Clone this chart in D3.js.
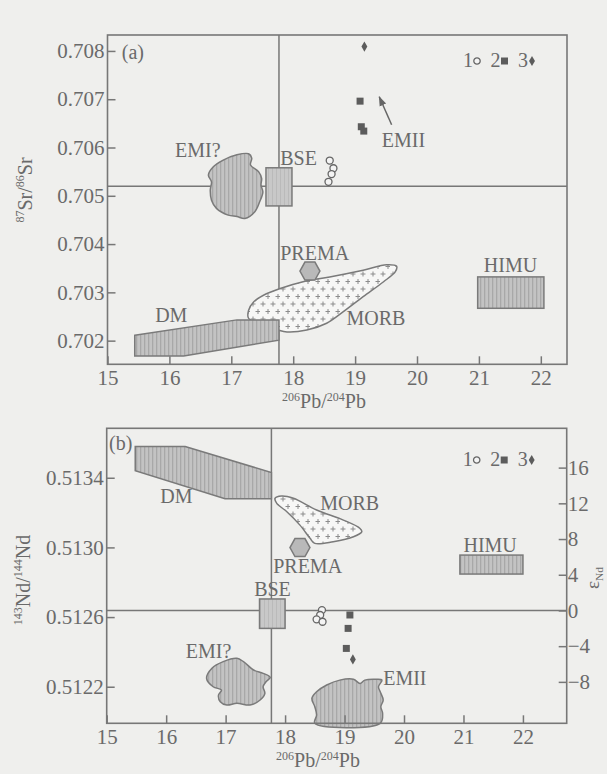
<!DOCTYPE html>
<html>
<head>
<meta charset="utf-8">
<script src="https://cdn.jsdelivr.net/npm/d3@7"></script>
<style>
  html, body { margin: 0; padding: 0; background: #efefed; }
  svg { display: block; font-family: "Liberation Serif", "Times New Roman", serif; }
  .axis text { font-size: 21px; fill: #6a6a6a; font-family: "Liberation Serif", serif; }
  .axis line { stroke: #777; stroke-width: 1.5; }
  .axis path { display: none; }
  .lbl { font-size: 20px; fill: #6a6a6a; }
</style>
</head>
<body>
<div id="wrapper"></div>
<script>
// ---- shared axis values ----
const pbTicks = [15, 16, 17, 18, 19, 20, 21, 22];
const srTicks = [0.702, 0.703, 0.704, 0.705, 0.706, 0.707, 0.708];
const ndTicks = [0.5122, 0.5126, 0.5130, 0.5134];
const epsTicks = [-8, -4, 0, 4, 8, 12, 16];

const bsePb = 17.77;      // vertical reference line
const bseSr = 0.7052;     // horizontal reference line (a)
const churNd = 0.512638;  // horizontal reference line (b), eNd = 0

// ---- panel (a): 87Sr/86Sr vs 206Pb/204Pb ----
const srDM = [[15.44, 0.70211], [17.09, 0.70243], [17.77, 0.70243], [17.77, 0.70201], [16.23, 0.70168], [15.44, 0.70168]];
const srMORB = [[17.28, 0.70246], [17.28, 0.70263], [17.36, 0.70280], [17.52, 0.70294], [17.79, 0.70308], [18.16, 0.70322],
                [18.59, 0.70332], [19.13, 0.70346], [19.51, 0.70357], [19.67, 0.70354], [19.65, 0.70343], [19.46, 0.70322],
                [19.13, 0.70291], [18.81, 0.70260], [18.54, 0.70236], [18.22, 0.70222], [17.90, 0.70218], [17.76, 0.70222]];
const srEMI = [[16.63, 0.70543], [16.71, 0.70560], [16.87, 0.70574], [17.09, 0.70585], [17.28, 0.70587], [17.33, 0.70578],
               [17.31, 0.70564], [17.44, 0.70550], [17.49, 0.70536], [17.48, 0.70522], [17.51, 0.70508], [17.46, 0.70488],
               [17.38, 0.70467], [17.22, 0.70453], [17.09, 0.70457], [16.95, 0.70460], [16.76, 0.70474], [16.68, 0.70491],
               [16.66, 0.70512], [16.68, 0.70529]];
const srBSE = [17.56, 17.98, 0.70479, 0.70558];
const srHIMU = [20.98, 22.05, 0.70267, 0.70332];
const srPREMA = [18.27, 0.70344];
const srSample1 = [[18.59, 0.70573], [18.65, 0.70557], [18.62, 0.70545], [18.57, 0.70529]];
const srSample2 = [[19.08, 0.70696], [19.10, 0.70643], [19.14, 0.70634]];
const srSample3 = [[19.15, 0.70809]];
const srArrow = [[19.59, 0.70647], [19.39, 0.70705]];
const srLabels = [
  {text: "(a)", x: 15.23, y: 0.70783},
  {text: "EMI?", x: 16.09, y: 0.70581},
  {text: "BSE", x: 17.79, y: 0.70564},
  {text: "EMII", x: 19.43, y: 0.70602},
  {text: "PREMA", x: 17.79, y: 0.70368},
  {text: "MORB", x: 18.86, y: 0.70232},
  {text: "DM", x: 15.77, y: 0.70239},
  {text: "HIMU", x: 21.08, y: 0.70343}
];

// ---- panel (b): 143Nd/144Nd vs 206Pb/204Pb ----
const ndDM = [[15.48, 0.51358], [16.32, 0.51358], [17.77, 0.51343], [17.77, 0.51328], [16.99, 0.51328], [15.48, 0.51344]];
const ndMORB = [[17.83, 0.513282], [17.94, 0.513295], [18.14, 0.513282], [18.53, 0.513215], [18.98, 0.513157], [19.26, 0.513109],
                [19.29, 0.513090], [19.15, 0.513061], [18.81, 0.513033], [18.50, 0.513023], [18.42, 0.513052], [18.25, 0.513128],
                [18.03, 0.513205], [17.86, 0.513253]];
const ndEMI = [[16.68, 0.512248], [16.77, 0.512306], [16.96, 0.512344], [17.19, 0.512363], [17.30, 0.512344], [17.47, 0.512296],
               [17.63, 0.512277], [17.75, 0.512254], [17.68, 0.512229], [17.63, 0.512200], [17.66, 0.512162], [17.58, 0.512124],
               [17.41, 0.512095], [17.19, 0.512105], [17.02, 0.512095], [16.91, 0.512114], [16.88, 0.512152], [16.93, 0.512181],
               [16.79, 0.512200]];
const ndEMII = [[18.45, 0.512133], [18.53, 0.512171], [18.70, 0.512210], [18.92, 0.512238], [19.15, 0.512243], [19.26, 0.512219],
                [19.34, 0.512238], [19.54, 0.512243], [19.63, 0.512238], [19.57, 0.512200], [19.60, 0.512171], [19.65, 0.512124],
                [19.61, 0.512085], [19.64, 0.512047], [19.60, 0.51199], [18.50, 0.51199], [18.53, 0.512038], [18.50, 0.512085]];
const ndBSE = [17.57, 18.00, 0.512535, 0.512704];
const ndHIMU = [20.94, 22.00, 0.512847, 0.512956];
const ndPREMA = [18.25, 0.512999];
const ndSample1 = [[18.62, 0.512640], [18.59, 0.512612], [18.53, 0.512587], [18.63, 0.512573]];
const ndSample2 = [[19.09, 0.512612], [19.06, 0.512535], [19.03, 0.512420]];
const ndSample3 = [[19.14, 0.512357]];
const ndLabels = [
  {text: "(b)", x: 15.04, y: 0.51356},
  {text: "DM", x: 15.90, y: 0.513253},
  {text: "MORB", x: 18.59, y: 0.513215},
  {text: "PREMA", x: 17.80, y: 0.512851},
  {text: "BSE", x: 17.48, y: 0.512721},
  {text: "HIMU", x: 21.00, y: 0.512975},
  {text: "EMI?", x: 16.33, y: 0.512363},
  {text: "EMII", x: 19.65, y: 0.51221}
];

const legendNames = ["1", "2", "3"];

const W = 607, H = 774;
const ink = "#6a6a6a", lineCol = "#777";

let svg = d3.select("#wrapper")
            .append("svg")
            .attr("width", W)
            .attr("height", H);

svg.append("rect").attr("width", W).attr("height", H).attr("fill", "#efefed");

let defs = svg.append("defs");

let stripes = defs.append("pattern")
                .attr("id", "stripes")
                .attr("patternUnits", "userSpaceOnUse")
                .attr("width", 4).attr("height", 4);
stripes.append("rect").attr("width", 4).attr("height", 4).attr("fill", "#c3c3c3");
stripes.append("rect").attr("width", 1.3).attr("height", 4).attr("fill", "#a8a8a8");

let stripesLight = defs.append("pattern")
                .attr("id", "stripesLight")
                .attr("patternUnits", "userSpaceOnUse")
                .attr("width", 4).attr("height", 4);
stripesLight.append("rect").attr("width", 4).attr("height", 4).attr("fill", "#c8c8c8");
stripesLight.append("rect").attr("width", 1).attr("height", 4).attr("fill", "#bababa");

// '+' texture of the MORB field, staggered rows
let plus = defs.append("pattern")
                .attr("id", "plus")
                .attr("patternUnits", "userSpaceOnUse")
                .attr("width", 10).attr("height", 15);
plus.append("rect").attr("width", 10).attr("height", 15).attr("fill", "#f7f7f6");
plus.append("path")
    .attr("d", "M0.5,4h5M3,1.5v5M5.5,11.5h5M8,9v5")
    .attr("stroke", "#8c8c8c")
    .attr("stroke-width", 1);

defs.append("marker")
    .attr("id", "arrowHead")
    .attr("viewBox", "0 0 10 10")
    .attr("refX", 9).attr("refY", 5)
    .attr("markerWidth", 10).attr("markerHeight", 10)
    .attr("markerUnits", "userSpaceOnUse")
    .attr("orient", "auto")
    .append("path")
    .attr("d", "M0,1.5L10,5L0,8.5z")
    .attr("fill", "#666");

// isotope-style label with superscripts / subscripts
function isoText(sel, parts, size) {
    parts.forEach(p => {
        let t = sel.append("tspan").text(p.t);
        if (p.sup) t.attr("font-size", size * 0.6).attr("dy", -size * 0.38);
        else if (p.sub) t.attr("font-size", size * 0.6).attr("dy", size * 0.22);
        else t.attr("font-size", size);
        if (p.back) t.attr("dy", p.back);
    });
}

const pbParts = [{t: "206", sup: true}, {t: "Pb", back: 7.6}, {t: "/"}, {t: "204", sup: true}, {t: "Pb", back: 7.6}];

function hexPath(cx, cy) {
    let rx = 10, ry = 9;
    return d3.line()([[cx - rx, cy], [cx - rx / 2, cy - ry], [cx + rx / 2, cy - ry],
                      [cx + rx, cy], [cx + rx / 2, cy + ry], [cx - rx / 2, cy + ry]]) + "Z";
}

function drawPanel(p) {
    let xS = p.x, yS = p.y;
    let [x0, x1] = xS.range();
    let [yB, yT] = yS.range();
    let g = svg.append("g");
    let poly = d3.line().x(d => xS(d[0])).y(d => yS(d[1])).curve(d3.curveCatmullRomClosed.alpha(0.5));
    let polyStraight = d3.line().x(d => xS(d[0])).y(d => yS(d[1]));

    // reference lines
    g.append("line")
        .attr("x1", x0).attr("x2", x1)
        .attr("y1", yS(p.hLine)).attr("y2", yS(p.hLine))
        .attr("stroke", lineCol).attr("stroke-width", 1.5);
    g.append("line")
        .attr("x1", xS(bsePb)).attr("x2", xS(bsePb))
        .attr("y1", yT).attr("y2", yB)
        .attr("stroke", lineCol).attr("stroke-width", 1.5);

    // fields
    g.append("path")
        .attr("d", poly(p.morb))
        .attr("fill", "url(#plus)")
        .attr("stroke", "#7a7a7a").attr("stroke-width", 1.5);
    g.append("path")
        .attr("d", polyStraight(p.dm) + "Z")
        .attr("fill", "url(#stripes)")
        .attr("stroke", "#7a7a7a").attr("stroke-width", 1.5);
    p.blobs.forEach(b => {
        g.append("path")
            .attr("d", poly(b))
            .attr("fill", "url(#stripes)")
            .attr("stroke", "#7a7a7a").attr("stroke-width", 1.5);
    });
    g.append("rect")
        .attr("x", xS(p.himu[0])).attr("width", xS(p.himu[1]) - xS(p.himu[0]))
        .attr("y", yS(p.himu[3])).attr("height", yS(p.himu[2]) - yS(p.himu[3]))
        .attr("fill", "url(#stripes)")
        .attr("stroke", "#7a7a7a").attr("stroke-width", 1.5);
    g.append("rect")
        .attr("x", xS(p.bse[0])).attr("width", xS(p.bse[1]) - xS(p.bse[0]))
        .attr("y", yS(p.bse[3])).attr("height", yS(p.bse[2]) - yS(p.bse[3]))
        .attr("fill", "url(#stripesLight)")
        .attr("stroke", "#7a7a7a").attr("stroke-width", 1.5);
    g.append("path")
        .attr("d", hexPath(xS(p.prema[0]), yS(p.prema[1])))
        .attr("fill", "#b9b9b9")
        .attr("stroke", "#7a7a7a").attr("stroke-width", 1.5);

    // samples
    g.selectAll("circle.s1")
        .data(p.s1).enter().append("circle")
        .attr("cx", d => xS(d[0])).attr("cy", d => yS(d[1]))
        .attr("r", 3.5)
        .attr("fill", "#f4f4f4").attr("stroke", "#666").attr("stroke-width", 1.3);
    g.selectAll("path.s2")
        .data(p.s2).enter().append("path")
        .attr("d", d3.symbol(d3.symbolSquare, 49))
        .attr("transform", d => `translate(${xS(d[0])},${yS(d[1])})`)
        .attr("fill", "#5c5c5c");
    g.selectAll("path.s3")
        .data(p.s3).enter().append("path")
        .attr("d", d3.symbol(d3.symbolDiamond, 30))
        .attr("transform", d => `translate(${xS(d[0])},${yS(d[1])})`)
        .attr("fill", "#5c5c5c");

    if (p.arrow) {
        g.append("line")
            .attr("x1", xS(p.arrow[0][0])).attr("y1", yS(p.arrow[0][1]))
            .attr("x2", xS(p.arrow[1][0])).attr("y2", yS(p.arrow[1][1]))
            .attr("stroke", "#666").attr("stroke-width", 1.5)
            .attr("marker-end", "url(#arrowHead)");
    }

    // labels
    g.selectAll("text.lbl")
        .data(p.labels).enter().append("text")
        .attr("class", "lbl")
        .attr("x", d => xS(d.x)).attr("y", d => yS(d.y))
        .text(d => d.text);

    // legend
    let lg = g.append("g").attr("transform", `translate(${x1 - 104}, ${p.legendY})`);
    let shapes = [d3.symbolCircle, d3.symbolSquare, d3.symbolDiamond];
    legendNames.forEach((n, i) => {
        lg.append("text").attr("class", "lbl").attr("x", i * 27.5).text(n);
        let sym = lg.append("path")
            .attr("transform", `translate(${i * 27.5 + 14}, -6)`);
        if (i == 0) sym.attr("d", d3.symbol(shapes[i], 32)).attr("fill", "#f4f4f4").attr("stroke", "#666").attr("stroke-width", 1.3);
        else if (i == 1) sym.attr("d", d3.symbol(shapes[i], 49)).attr("fill", "#5c5c5c");
        else sym.attr("d", d3.symbol(shapes[i], 30)).attr("fill", "#5c5c5c");
    });

    // axes, ticks pointing inwards
    g.append("g").attr("class", "axis")
        .attr("transform", `translate(0, ${yB})`)
        .call(d3.axisBottom(xS).tickValues(pbTicks).tickSize(-8).tickPadding(6).tickFormat(d3.format("d")));
    g.append("g").attr("class", "axis")
        .attr("transform", `translate(${x0}, 0)`)
        .call(d3.axisLeft(yS).tickValues(p.yTicks).tickSize(-8).tickPadding(3).tickFormat(d3.format(p.yFormat)));
    if (p.eps) {
        g.append("g").attr("class", "axis")
            .attr("transform", `translate(${x1}, 0)`)
            .call(d3.axisRight(p.eps).tickValues(epsTicks).tickSize(-8).tickPadding(1).tickFormat(d3.format("d")));
    }

    // frame
    g.append("rect")
        .attr("x", x0).attr("y", yT)
        .attr("width", x1 - x0).attr("height", yB - yT)
        .attr("fill", "none").attr("stroke", lineCol).attr("stroke-width", 1.6);

    // x title
    let xt = g.append("text")
        .attr("x", p.xTitleX).attr("y", yB + 44)
        .attr("text-anchor", "middle")
        .attr("fill", ink);
    isoText(xt, pbParts, 20);
}

// ---- scales ----
let xA = d3.scaleLinear().domain([15, 22.423]).range([107.5, 567]);
let yA = d3.scaleLinear().domain([0.70151, 0.70833]).range([364.3, 35]);

let xB = d3.scaleLinear().domain([15, 22.736]).range([106.7, 566.7]);
let yB = d3.scaleLinear().domain([0.51199, 0.513684]).range([723.3, 428.3]);
let toEps = v => (v / churNd - 1) * 1e4;
let epsB = d3.scaleLinear().domain(yB.domain().map(toEps)).range(yB.range());

drawPanel({
    x: xA, y: yA, hLine: bseSr,
    dm: srDM, morb: srMORB, blobs: [srEMI], bse: srBSE, himu: srHIMU, prema: srPREMA,
    s1: srSample1, s2: srSample2, s3: srSample3, arrow: srArrow,
    labels: srLabels, legendY: 67,
    yTicks: srTicks, yFormat: ".3f", xTitleX: 324
});

drawPanel({
    x: xB, y: yB, hLine: churNd, eps: epsB,
    dm: ndDM, morb: ndMORB, blobs: [ndEMI, ndEMII], bse: ndBSE, himu: ndHIMU, prema: ndPREMA,
    s1: ndSample1, s2: ndSample2, s3: ndSample3, arrow: null,
    labels: ndLabels, legendY: 466,
    yTicks: ndTicks, yFormat: ".4f", xTitleX: 318
});

// ---- y titles ----
let ySr = svg.append("text")
            .attr("transform", "translate(32, 190) rotate(-90)")
            .attr("text-anchor", "middle")
            .attr("fill", ink);
isoText(ySr, [{t: "87", sup: true}, {t: "Sr", back: 7.6}, {t: "/"}, {t: "86", sup: true}, {t: "Sr", back: 7.6}], 20);

let yNd = svg.append("text")
            .attr("transform", "translate(30, 580) rotate(-90)")
            .attr("text-anchor", "middle")
            .attr("fill", ink);
isoText(yNd, [{t: "143", sup: true}, {t: "Nd", back: 7.6}, {t: "/"}, {t: "144", sup: true}, {t: "Nd", back: 7.6}], 20);

let yEps = svg.append("text")
            .attr("transform", "translate(599, 578) rotate(-90)")
            .attr("text-anchor", "middle")
            .attr("fill", ink);
isoText(yEps, [{t: "ε"}, {t: "Nd", sub: true}], 19);
</script>
</body>
</html>
